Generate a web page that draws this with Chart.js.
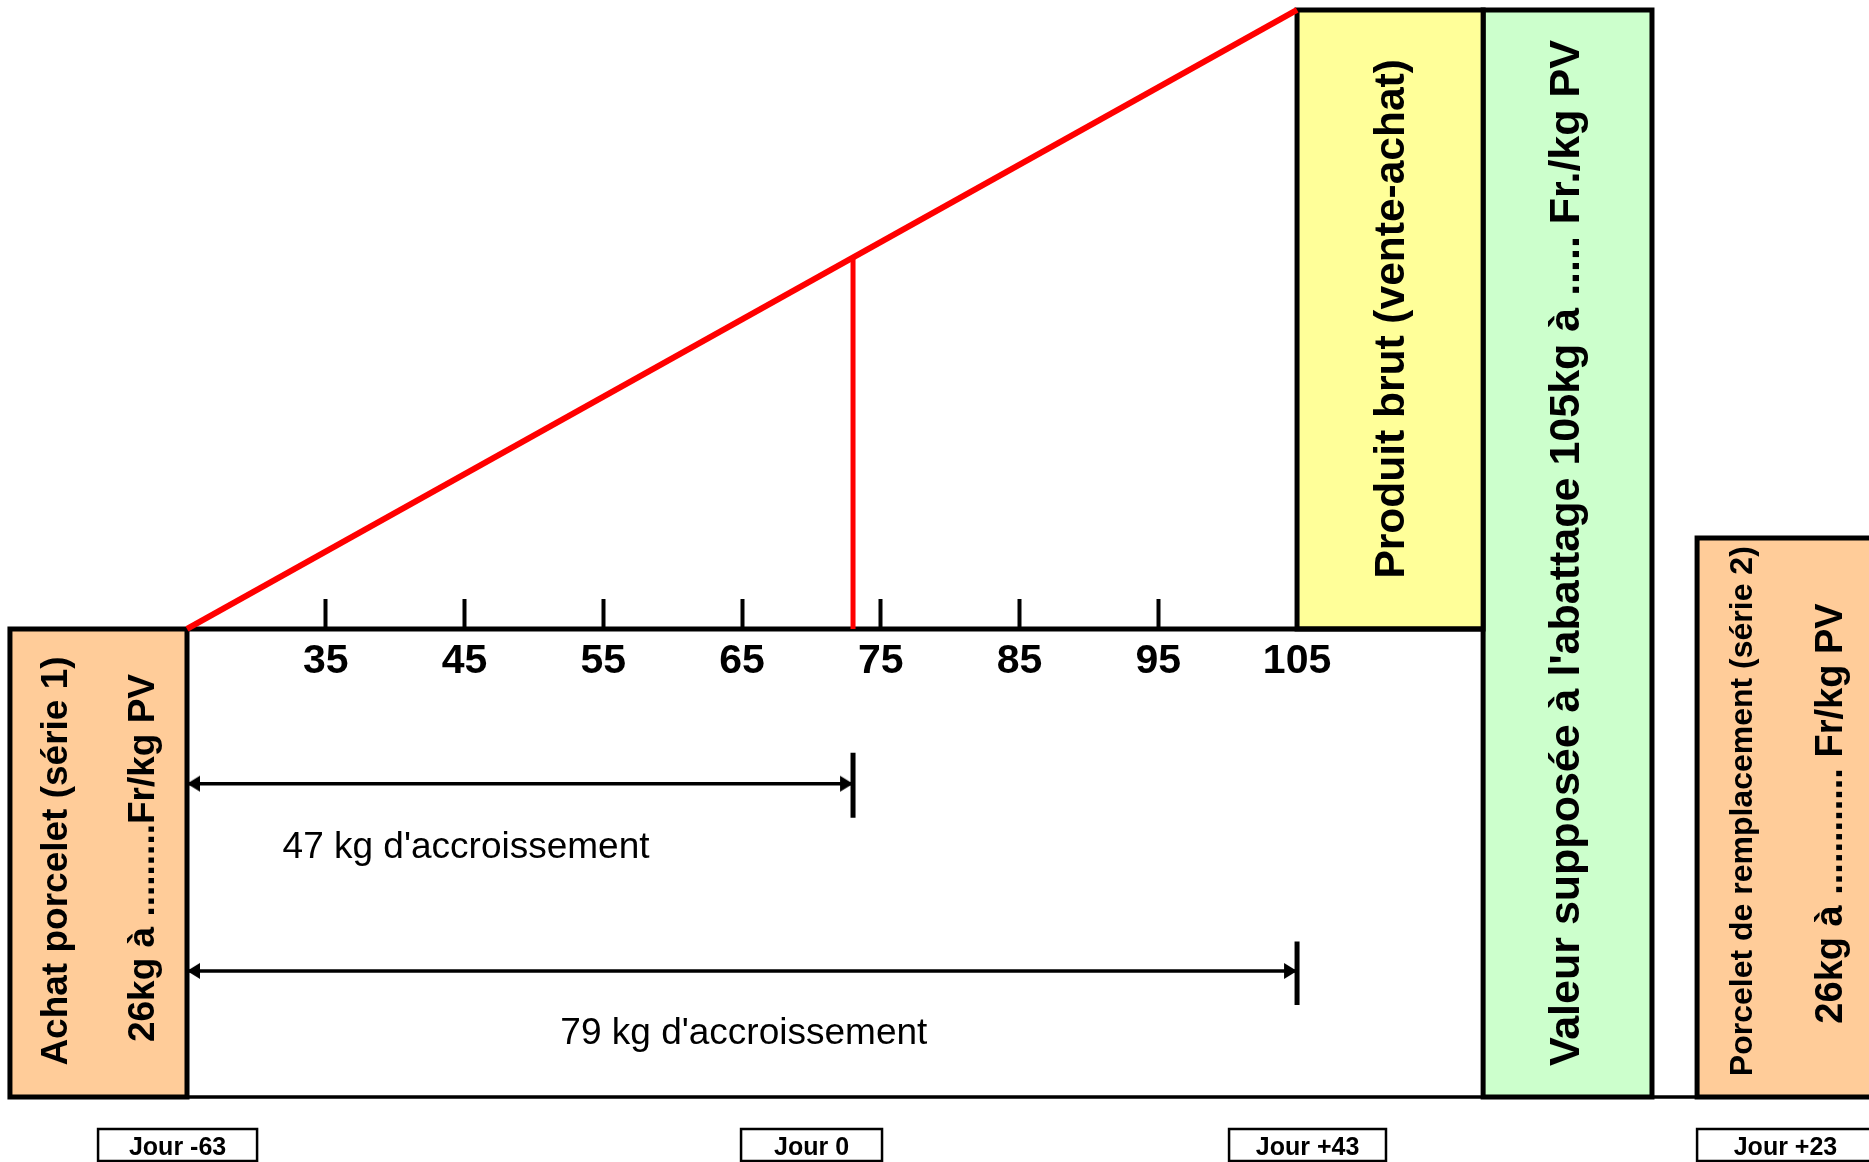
<!DOCTYPE html>
<html>
<head>
<meta charset="utf-8">
<script src="https://cdn.jsdelivr.net/npm/chart.js@4/dist/chart.umd.min.js"></script>
<style>
	body { margin: 0; background: #FFFFFF; }
	#wrap { width: 1869px; height: 1162px; position: relative; }
</style>
</head>
<body>
<div id="wrap"><canvas id="graph"></canvas></div>
<script>
// Weight axis (kg) and its ticks
var tick_values = [35, 45, 55, 65, 75, 85, 95, 105];
var axis_start = 25;
var axis_end = 118.41;

// Growth line: piglet bought at 25 kg, pig sold at 105 kg
var growth_x = [25, 105];
var growth_y = [25, 105];
// Weight reached on day 0
var day0_weight = 73;

// Gain arrows (kg)
var gain_start = [25, 25];
var gain_end = [73, 105];
var gain_level = [5.0, -19.2];
var gain_bar_top = [9.0, -15.4];
var gain_bar_bottom = [0.6, -23.6];
var gain_labels = ["47 kg d'accroissement", "79 kg d'accroissement"];

// Boxes: x range, y range, fill
var box_x0 = [12.24, 105, 118.41, 133.83];
var box_x1 = [25, 118.41, 130.58, 148];
var box_y0 = [25, 105, 105, 36.76];
var box_y1 = [-35.49, 25, -35.49, -35.49];
var box_fill = ["#FFCC99", "#FFFF99", "#CCFFCC", "#FFCC99"];
var base_level = -35.49;

// Day labels under the diagram
var day_labels = ["Jour -63", "Jour 0", "Jour +43", "Jour +23"];
var day_x0 = [18.59, 64.93, 100.1, 133.83];
var day_x1 = [30.05, 75.09, 111.41, 148];
var day_text_x = [24.32, 70.01, 105.76, 140.2];
var day_top = -39.62;
var day_bottom = -43.76;
var day_text_y = -42.08;

// Texts written in the boxes and under the arrows
var note_text = [
	"Achat porcelet (série 1)",
	"26kg à .........Fr/kg PV",
	"Produit brut (vente-achat)",
	"Valeur supposée à l'abattage 105kg à ..... Fr./kg PV",
	"Porcelet de remplacement (série 2)",
	"26kg à ............ Fr/kg PV",
	gain_labels[0],
	gain_labels[1]
];
var note_x = [15.6, 21.92, 111.83, 124.5, 137.12, 143.49, 45.11, 65.13];
var note_y = [-4.99, -4.6, 65.08, 34.8, 1.45, 1.15, -3.24, -27.28];
var note_size = [37, 37, 42.5, 43, 32, 38, 37, 37];
var note_bold = [true, true, true, true, true, true, false, false];
var note_vertical = [true, true, true, true, true, true, false, false];

var font_family = "'Liberation Sans', Arial, sans-serif";
Chart.defaults.font.family = font_family;

function rect(x0, x1, y0, y1) {
	return [{x: x0, y: y0}, {x: x1, y: y0}, {x: x1, y: y1}, {x: x0, y: y1}, {x: x0, y: y0}];
}

// Arrow head with its tip in the middle of the picture, pointing right
function arrowHead() {
	var c = document.createElement("canvas");
	c.width = 28;
	c.height = 18;
	var g = c.getContext("2d");
	g.fillStyle = "#000000";
	g.beginPath();
	g.moveTo(14, 9);
	g.lineTo(1, 1);
	g.lineTo(1, 17);
	g.closePath();
	g.fill();
	return c;
}
var head = arrowHead();

var datasets = [];

// Boxes
for (var i = 0; i < box_fill.length; i++) {
	datasets.push({
		data: rect(box_x0[i], box_x1[i], box_y0[i], box_y1[i]),
		borderColor: "#000000",
		borderWidth: 5,
		backgroundColor: box_fill[i],
		fill: "shape",
		borderJoinStyle: "miter",
		borderCapStyle: "square",
		pointRadius: 0,
		order: 5
	});
}
// Day label boxes
for (var i = 0; i < day_labels.length; i++) {
	datasets.push({
		data: rect(day_x0[i], day_x1[i], day_top, day_bottom),
		borderColor: "#000000",
		borderWidth: 2.5,
		backgroundColor: "#FFFFFF",
		fill: "shape",
		borderJoinStyle: "miter",
		borderCapStyle: "square",
		pointRadius: 0,
		order: 5
	});
}
// Weight axis line and base line
datasets.push({
	data: [{x: axis_start, y: axis_start}, {x: axis_end, y: axis_start}],
	borderColor: "#000000", borderWidth: 5, pointRadius: 0, order: 4
});
datasets.push({
	data: [{x: box_x1[0], y: base_level}, {x: box_x0[3], y: base_level}],
	borderColor: "#000000", borderWidth: 3.5, pointRadius: 0, order: 4
});
// Growth line and day 0 weight
datasets.push({
	data: growth_x.map(function(v, k) { return {x: v, y: growth_y[k]}; }),
	borderColor: "#FF0000", borderWidth: 6, pointRadius: 0, order: 3
});
datasets.push({
	data: [{x: day0_weight, y: axis_start}, {x: day0_weight, y: day0_weight}],
	borderColor: "#FF0000", borderWidth: 5, pointRadius: 0, order: 3
});
// Gain arrows with their end bars
for (var i = 0; i < gain_end.length; i++) {
	datasets.push({
		data: [{x: gain_start[i], y: gain_level[i]}, {x: gain_end[i], y: gain_level[i]}],
		borderColor: "#000000",
		borderWidth: 3.5,
		pointStyle: head,
		pointRotation: [180, 0],
		pointRadius: 1,
		order: 2
	});
	datasets.push({
		data: [{x: gain_end[i], y: gain_bar_top[i]}, {x: gain_end[i], y: gain_bar_bottom[i]}],
		borderColor: "#000000", borderWidth: 5, pointRadius: 0, order: 2
	});
}

// Writes the texts at their place on the scales
var notesPlugin = {
	id: "notes",
	afterDatasetsDraw: function(chart) {
		var ctx = chart.ctx;
		var xs = chart.scales.x;
		var ys = chart.scales.y;
		ctx.save();
		ctx.fillStyle = "#000000";
		ctx.textAlign = "center";
		ctx.textBaseline = "middle";
		for (var i = 0; i < note_text.length; i++) {
			ctx.save();
			ctx.translate(xs.getPixelForValue(note_x[i]), ys.getPixelForValue(note_y[i]));
			if (note_vertical[i]) ctx.rotate(-Math.PI / 2);
			ctx.font = (note_bold[i] ? "bold " : "") + note_size[i] + "px " + font_family;
			ctx.fillText(note_text[i], 0, 0);
			ctx.restore();
		}
		ctx.font = "bold 25px " + font_family;
		for (var i = 0; i < day_labels.length; i++) {
			ctx.fillText(day_labels[i], xs.getPixelForValue(day_text_x[i]), ys.getPixelForValue(day_text_y));
		}
		ctx.restore();
	}
};

var canvas = document.getElementById("graph").getContext("2d");
var graph = new Chart(canvas, {
	type: "line",
	data: { datasets: datasets },
	plugins: [notesPlugin],
	options: {
		animation: false,
		responsive: true,
		maintainAspectRatio: false,
		devicePixelRatio: 1,
		events: [],
		layout: { padding: 0, autoPadding: false },
		elements: { line: { tension: 0 } },
		plugins: {
			legend: { display: false },
			tooltip: { enabled: false }
		},
		scales: {
			x: {
				type: "linear",
				min: 11.523,
				max: 146.22,
				position: { y: 25 },
				afterBuildTicks: function(scale) {
					scale.ticks = tick_values.map(function(v) { return {value: v}; });
				},
				afterFit: function(scale) {
					scale.height = 0;
				},
				border: { display: false },
				grid: {
					drawOnChartArea: false,
					drawTicks: true,
					tickLength: -30,
					tickWidth: 4,
					tickColor: "#000000"
				},
				ticks: {
					autoSkip: false,
					maxRotation: 0,
					padding: 38,
					color: "#000000",
					font: { size: 41, weight: "bold" }
				}
			},
			y: {
				type: "linear",
				min: -43.89,
				max: 106.29,
				display: false
			}
		}
	}
});
</script>
</body>
</html>
